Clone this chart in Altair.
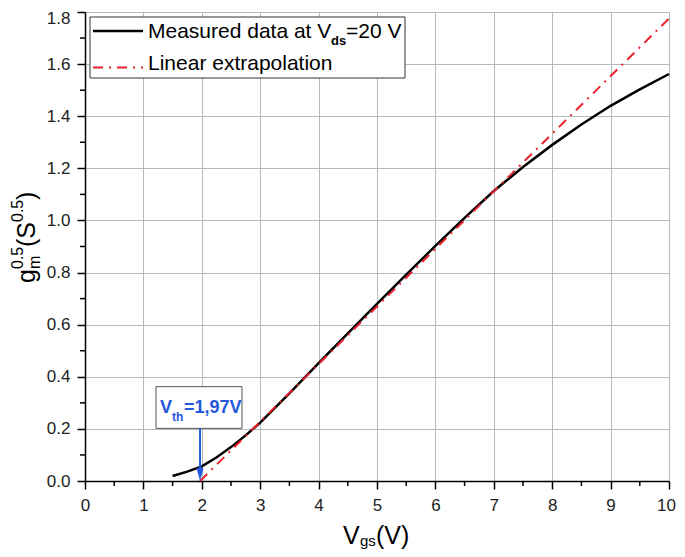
import altair as alt
import pandas as pd

FONT = "Liberation Sans"

# ---- data ----
vgs_meas = [1.5, 1.75, 2.0, 2.25, 2.5, 2.75, 3.0, 3.5, 4.0, 4.5, 5.0, 5.5, 6.0, 6.5, 7.0, 7.5, 8.0, 8.5, 9.0, 9.5, 10.0]
gm_meas = [0.019, 0.036, 0.056, 0.090, 0.130, 0.175, 0.224, 0.336, 0.452, 0.567, 0.680, 0.792, 0.902, 1.010, 1.113, 1.205, 1.290, 1.368, 1.440, 1.503, 1.562]
vgs_lin = [1.97, 10.0]
gm_lin = [0.0, 1.775]
x_major = [0, 1, 2, 3, 4, 5, 6, 7, 8, 9, 10]
x_minor = [0.5, 1.5, 2.5, 3.5, 4.5, 5.5, 6.5, 7.5, 8.5, 9.5]
y_major = [0.0, 0.2, 0.4, 0.6, 0.8, 1.0, 1.2, 1.4, 1.6, 1.8]
y_minor = [0.1, 0.3, 0.5, 0.7, 0.9, 1.1, 1.3, 1.5, 1.7]
vth = 1.97
vth_box = {"x": 1.216, "x2": 2.688, "y": 0.202, "y2": 0.362}

W, H = 584, 469
LEFT, TOP = 85, 12  # page position of plot origin


def px(page_x):
    return page_x - LEFT


def py(page_y):
    return page_y - TOP


xs = alt.Scale(domain=[0, 10], nice=False, zero=False)
ys = alt.Scale(domain=[0, 1.8], nice=False, zero=False)
xax = alt.Axis(values=x_major, title=None, grid=True, gridColor="#b3bcbc", gridWidth=1,
               domainColor="black", domainWidth=1.5, tickColor="black", tickWidth=1.5,
               tickSize=8, labelFontSize=17, labelFont=FONT, labelColor="#222",
               labelPadding=8, labelFlush=False,
               labelOffset={"condition": {"test": "datum.value > 9.5", "value": -3}, "value": 0})
yax = alt.Axis(values=y_major, format=".1f", title=None, grid=True, gridColor="#b3bcbc", gridWidth=1,
               domainColor="black", domainWidth=1.5, tickColor="black", tickWidth=1.5,
               tickSize=8, labelFontSize=17, labelFont=FONT, labelColor="#222",
               labelPadding=7, labelFlush=False,
               labelOffset={"condition": {"test": "datum.value > 1.75", "value": 6}, "value": 0})


def X(f):
    return alt.X(f, type="quantitative", scale=xs, axis=xax)


def Y(f):
    return alt.Y(f, type="quantitative", scale=ys, axis=yax)


df_meas = pd.DataFrame({"x": vgs_meas, "y": gm_meas})
df_lin = pd.DataFrame({"x": vgs_lin, "y": gm_lin})

meas = alt.Chart(df_meas).mark_line(color="black", strokeWidth=2.5).encode(x=X("x"), y=Y("y"))
lin = alt.Chart(df_lin).mark_line(color="#e8222b", strokeWidth=2, strokeDash=[10, 6, 2, 6]).encode(
    x=X("x"), y=Y("y"))

xminor = alt.Chart(pd.DataFrame({"x": x_minor})).mark_rule(color="black", strokeWidth=1.5).encode(
    x=X("x"), y=alt.value(H), y2=alt.value(H + 5))
yminor = alt.Chart(pd.DataFrame({"y": y_minor})).mark_rule(color="black", strokeWidth=1.5).encode(
    y=Y("y"), x=alt.value(-5), x2=alt.value(0))

ONE = alt.Data(values=[{}])


def txt(s, x, y, size, color="black", weight="normal", angle=0):
    return alt.Chart(ONE).mark_text(text=s, font=FONT, fontSize=size, color=color, fontWeight=weight,
                                    align="left", baseline="alphabetic", angle=angle).encode(
        x=alt.value(px(x)), y=alt.value(py(y)))


# legend
leg_box = alt.Chart(ONE).mark_rect(fill="white", stroke="#333", strokeWidth=1).encode(
    x=alt.value(px(90)), x2=alt.value(px(405)), y=alt.value(py(17)), y2=alt.value(py(78)))
leg_black = alt.Chart(ONE).mark_rule(color="black", strokeWidth=2.5).encode(
    x=alt.value(px(93)), x2=alt.value(px(143)), y=alt.value(py(31)))
leg_red = alt.Chart(ONE).mark_rule(color="#e8222b", strokeWidth=2, strokeDash=[10, 6, 2, 6]).encode(
    x=alt.value(px(93)), x2=alt.value(px(143)), y=alt.value(py(67.5)))
leg_t1 = txt("Measured data at V", 148, 38, 21)
leg_t1s = txt("ds", 331, 45, 13, weight="bold")
leg_t1e = txt("=20 V", 346, 38, 21)
leg_t2 = txt("Linear extrapolation", 148, 70, 21)

# Vth annotation
BLUE = "#2458e0"
box = alt.Chart(alt.Data(values=[vth_box])).mark_rect(fill="white", stroke="#555", strokeWidth=1).encode(
    x=X("x:Q"), x2="x2:Q", y=Y("y:Q"), y2="y2:Q")
arrow_line = alt.Chart(alt.Data(values=[{"x": vth, "y": 0.202, "y2": 0.045}])).mark_rule(
    color=BLUE, strokeWidth=2).encode(x=X("x:Q"), y=Y("y:Q"), y2="y2:Q")
arrow_head = alt.Chart(alt.Data(values=[{"x": vth, "y": 0.0248}])).mark_point(
    shape="M -0.55 -1 L 0.55 -1 L 0 1 Z", size=169, filled=True, color=BLUE, opacity=1,
    strokeWidth=0).encode(x=X("x:Q"), y=Y("y:Q"))
vt1 = txt("V", 160, 413, 18, BLUE, "bold")
vt2 = txt("th", 172, 421, 12, BLUE, "bold")
vt3 = txt("=1,97V", 184, 413, 18, BLUE, "bold")

# x axis title
xt1 = txt("V", 343, 544, 25)
xt2 = txt("gs", 360, 546, 15)
xt3 = txt("(V)", 376, 544, 25)

# y axis title (rotated, reads bottom to top)
ya = 270
yt1 = txt("g", 35, 283, 25, angle=ya)
yt2 = txt("0.5", 23, 269, 16, angle=ya)
yt3 = txt("m", 40, 269, 16, angle=ya)
yt4 = txt("(S", 35, 247, 25, angle=ya)
yt5 = txt("0.5", 23, 222, 16, angle=ya)
yt6 = txt(")", 35, 200, 25, angle=ya)

chart = alt.layer(
    meas, lin, xminor, yminor,
    leg_box, leg_black, leg_red, leg_t1, leg_t1s, leg_t1e, leg_t2,
    box, arrow_line, arrow_head, vt1, vt2, vt3,
    xt1, xt2, xt3, yt1, yt2, yt3, yt4, yt5, yt6,
).properties(
    width=W, height=H,
    padding={"left": 77, "top": 4, "right": 8, "bottom": 68},
    autosize=alt.AutoSizeParams(type="none"),
).configure_view(stroke="black", strokeWidth=1.5).configure(background="white")

chart.save("out.html", embed_options={"renderer": "svg", "actions": False})
